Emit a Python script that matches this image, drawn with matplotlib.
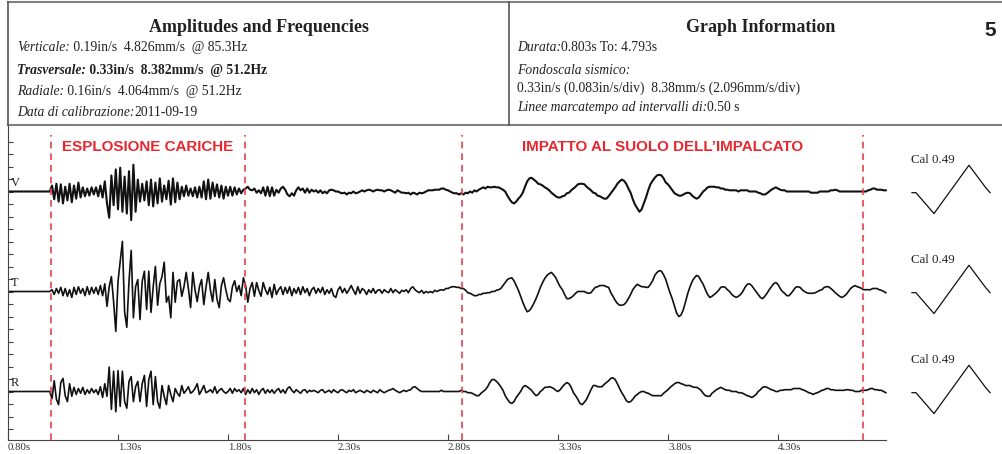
import numpy as np
import matplotlib
matplotlib.use('Agg')
import matplotlib.pyplot as plt

# record: one sample every 0.01 s starting at 0.80 s
t0, dt = 0.80, 0.01

# particle velocity in mm/s, each row = 0.2 s
vert = [
    0.0, 0.0, 0.0, 0.0, 0.0, 0.0, 0.0, 0.0, 0.0, 0.0, 0.0, 0.0, 0.0, 0.0, 0.0, 0.0, 0.0, 0.0, 0.0, 0.0,
    1.0, -1.3, 1.3, -1.7, 1.2, -2.0, 0.8, -1.5, 1.3, -1.8, 1.0, -1.2, 1.5, -1.0, 0.7, -0.8, 0.5, -0.7, 0.7, -0.5,
    0.7, -0.8, 1.0, -1.0, 1.7, -2.0, -4.4, 2.7, -2.3, 3.7, -3.0, 4.0, -3.4, 2.5, -3.7, 3.4, -4.8, 4.5, -3.4, 2.0,
    -1.7, 1.3, -1.5, 1.7, -2.3, 2.0, -2.5, 1.5, -2.0, 2.2, -1.7, 1.0, -1.3, 1.8, -2.2, 2.2, -1.8, 1.5, -1.3, 0.8,
    -0.8, 1.0, -0.7, 0.5, -0.8, 0.7, -1.0, 0.8, -1.0, 1.7, -1.3, 2.0, -1.2, 1.5, -0.8, 1.2, -1.0, 1.0, -1.2, 0.8,
    -0.7, 0.8, -0.7, 0.7, -0.5, 0.5, -0.3, 0.3, 0.5, 0.8, 0.3, 0.2, 0.5, -0.2, 0.2, -0.3, 0.7, -0.7, 0.8, -0.8,
    0.7, -0.7, 0.3, -0.2, 0.5, 0.8, 0.3, -0.5, -0.8, -0.3, -0.7, 0.2, 0.7, 0.2, 0.5, -0.2, 0.5, -0.2, 0.3, 0.0,
    0.2, -0.2, 0.2, -0.3, 0.0, -0.3, 0.2, 0.3, 0.2, 0.0, 0.0, -0.2, -0.3, -0.2, -0.5, -0.2, -0.3, 0.0, -0.3, -0.2,
    0.0, 0.2, 0.0, 0.2, 0.3, 0.2, 0.0, 0.2, 0.3, 0.2, 0.2, 0.0, 0.2, 0.3, 0.2, 0.0, -0.2, 0.2, 0.0, -0.2,
    -0.2, -0.3, -0.2, -0.5, -0.2, -0.3, -0.5, -0.2, -0.3, -0.2, 0.0, 0.2, 0.2, 0.2, 0.3, 0.3, 0.3, 0.5, 0.5, 0.3,
    0.2, 0.0, -0.2, -0.3, -0.3, -0.5, -0.3, -0.5, -0.2, -0.3, 0.0, -0.2, 0.2, 0.0, 0.3, 0.5, 0.7, 0.5, 0.8, 0.7,
    0.7, 0.8, 0.7, 0.7, 0.5, 0.3, 0.0, -0.7, -1.3, -1.8, -2.0, -1.7, -1.2, -0.8, -0.2, 0.8, 1.7, 2.2, 2.3, 2.0,
    1.7, 1.3, 1.2, 1.0, 0.7, 0.5, 0.2, -0.2, -0.5, -0.8, -1.0, -1.0, -0.8, -0.7, -0.3, -0.2, 0.2, 0.5, 0.8, 1.2,
    1.3, 1.3, 1.2, 0.8, 0.5, 0.2, -0.2, -0.3, -0.7, -0.8, -1.0, -1.2, -1.2, -0.8, -0.3, 0.2, 0.7, 1.3, 1.7, 2.0,
    1.8, 1.3, 0.5, -0.2, -1.3, -2.2, -2.8, -3.4, -3.0, -2.0, -1.0, 0.2, 1.2, 1.8, 2.3, 2.7, 2.8, 2.7, 2.2, 1.5,
    1.2, 0.7, 0.2, -0.3, -0.5, -0.7, -0.7, -0.5, -0.3, -0.2, -0.3, -0.7, -1.0, -1.2, -1.0, -0.5, 0.0, 0.3, 0.7, 0.8,
    0.8, 0.8, 0.7, 0.7, 0.5, 0.5, 0.3, 0.3, 0.2, 0.2, 0.2, 0.2, 0.0, 0.2, 0.2, 0.2, 0.2, 0.0, 0.0, 0.0,
    0.0, -0.2, -0.3, -0.5, -0.5, -0.3, 0.0, 0.3, 0.5, 0.7, 0.5, 0.3, 0.2, 0.2, 0.0, 0.0, 0.0, 0.0, 0.0, 0.0,
    0.0, 0.0, 0.0, 0.0, 0.0, -0.2, -0.2, -0.2, -0.2, 0.0, 0.0, 0.0, 0.0, 0.0, 0.2, 0.2, 0.3, 0.2, 0.0, 0.0,
    0.0, 0.0, 0.0, 0.0, 0.0, 0.0, 0.0, 0.0, 0.0, 0.0, 0.0, 0.2, 0.3, 0.5, 0.5, 0.3, 0.3, 0.3, 0.2, 0.2,
]
trasv = [
    0.0, 0.0, 0.0, 0.0, 0.0, 0.0, 0.0, 0.0, 0.0, 0.0, 0.0, 0.0, 0.0, 0.0, 0.0, 0.0, 0.0, 0.0, 0.0, 0.0,
    0.3, -0.5, 0.5, -0.3, 0.7, -0.7, 0.5, -0.8, 0.3, -1.0, 0.7, -0.5, 0.8, -0.3, 0.5, -0.7, 0.8, -0.5, 0.7, -0.3,
    0.7, -0.5, 1.0, -0.7, 1.3, -2.5, 0.8, 2.5, -1.7, -6.7, 1.7, 5.0, 8.4, -3.4, -6.0, 1.7, 6.9, -4.4, 0.8, 2.0,
    -4.7, 1.7, 3.4, -3.0, 3.4, -3.5, 0.8, 4.2, -2.3, 1.3, 2.5, 4.9, -1.8, -0.8, -4.4, 3.2, -1.8, 1.7, 2.0, -0.8,
    0.8, 3.2, 0.5, -2.7, 3.2, 0.3, -1.7, 0.8, 2.0, -2.2, 0.7, 3.2, 0.3, -1.7, 2.0, -1.3, -2.7, 1.0, 2.3, 0.3,
    -1.3, -1.7, 0.8, 1.8, 0.0, 1.0, -0.7, 2.3, 1.0, -1.8, 0.5, 1.5, -0.8, 1.5, 0.2, -0.8, 1.5, 0.3, -0.5, 0.7,
    -1.0, 1.2, -0.5, 0.3, 0.8, -0.5, 0.7, -0.3, 0.8, -0.7, 0.5, -0.3, 0.7, -0.5, 0.8, -0.2, 0.5, -0.7, 0.3, 0.7,
    -0.3, 0.5, -0.2, 0.7, -0.5, 0.3, -0.3, 0.5, -0.7, -1.0, 0.3, 0.8, -0.2, 0.5, -0.3, 0.3, 1.0, 0.2, -0.5, 0.8,
    -0.3, 0.5, 0.2, -0.5, 0.3, -0.2, 0.5, -0.3, 0.2, 0.3, -0.3, 0.3, 0.0, -0.2, 0.5, -0.2, 0.3, 0.0, -0.3, 0.2,
    0.0, 0.3, -0.2, 0.5, 0.8, 0.3, 0.0, -0.2, 0.2, -0.3, 0.0, -0.2, 0.0, -0.2, 0.2, 0.0, 0.2, 0.3, 0.2, 0.5,
    0.5, 0.7, 0.8, 0.8, 0.7, 0.7, 0.5, 0.5, 0.2, -0.2, -0.3, -0.5, -0.7, -0.7, -0.5, -0.5, -0.3, -0.3, -0.2, -0.2,
    0.0, 0.0, 0.2, 0.3, 0.5, 1.0, 1.5, 2.0, 2.2, 2.3, 1.8, 1.0, 0.2, -0.8, -1.8, -2.7, -3.4, -3.2, -2.7, -2.0,
    -1.2, -0.3, 0.7, 1.5, 2.2, 2.7, 3.0, 3.2, 2.8, 2.3, 1.5, 0.8, 0.3, -0.5, -1.2, -1.2, -1.0, -0.7, -0.3, 0.0,
    0.0, 0.0, 0.0, -0.2, -0.3, -0.2, 0.3, 0.7, 0.8, 1.0, 1.0, 1.0, 0.8, 0.7, -0.2, -0.8, -1.5, -2.0, -2.3, -2.3,
    -2.2, -1.8, -1.2, -0.5, 0.3, 0.8, 1.2, 1.0, 0.8, 0.8, 0.7, 0.7, 1.2, 1.8, 2.7, 3.2, 3.5, 3.4, 2.8, 2.0,
    0.8, -0.3, -1.3, -2.5, -3.7, -4.2, -3.9, -3.0, -1.7, -0.3, 0.8, 1.7, 2.3, 2.7, 2.5, 1.8, 1.2, 0.3, -0.5, -1.0,
    -0.8, -0.5, -0.2, 0.2, 0.7, 0.8, 0.7, 0.3, 0.0, -0.5, -0.8, -1.0, -0.8, -0.5, 0.0, 0.7, 1.2, 1.3, 1.0, 0.5,
    0.0, -0.5, -1.0, -1.2, -0.8, -0.3, 0.3, 0.8, 1.3, 1.5, 1.2, 0.5, 0.0, -0.3, -0.7, -0.7, -0.3, 0.2, 0.7, 0.8,
    0.7, 0.3, 0.0, -0.2, -0.3, -0.3, -0.3, -0.2, 0.0, 0.2, 0.3, 0.7, 0.8, 0.8, 0.5, 0.2, -0.2, -0.5, -0.8, -1.0,
    -0.8, -0.5, 0.0, 0.5, 0.8, 1.0, 0.8, 0.7, 0.5, 0.3, 0.3, 0.3, 0.3, 0.5, 0.5, 0.5, 0.3, 0.2, 0.0, -0.2,
]
rad = [
    0.0, 0.0, 0.0, 0.0, 0.0, 0.0, 0.0, 0.0, 0.0, 0.0, 0.0, 0.0, 0.0, 0.0, 0.0, 0.0, 0.0, 0.0, 0.0, 0.0,
    -1.2, 1.8, -1.3, -2.2, 1.5, 2.2, -0.7, -1.7, 1.3, -0.8, 0.7, -0.5, 0.5, -0.3, 0.7, -0.5, 0.3, -0.3, 0.5, -0.2,
    0.3, -0.5, 0.8, -1.0, 1.3, -0.8, 4.1, -3.0, 3.4, -3.4, 3.5, -2.5, 3.4, -1.7, -2.8, 1.7, 2.5, -1.7, 0.8, 1.7,
    -1.7, 1.3, 2.7, -2.5, 2.0, 3.4, -2.2, 2.5, -1.7, -2.8, 1.0, -0.8, -2.2, 1.0, -0.5, -1.7, 0.5, -0.3, -0.8, 1.0,
    -0.3, 0.2, 0.8, -0.3, 0.0, 0.5, 1.3, -0.5, 0.2, 1.0, -0.2, 0.0, 0.3, -0.2, 0.8, -0.3, 0.2, 0.5, 0.0, -0.3,
    0.0, 0.5, -0.3, 0.5, 0.0, 0.3, -0.2, 0.5, -0.5, 0.3, -0.3, 0.5, -0.2, 0.3, -0.5, 0.2, 0.5, -0.3, 0.3, -0.2,
    0.3, -0.3, 0.2, 0.5, -0.2, 0.3, -0.3, 0.5, 0.8, 0.2, -0.2, 0.3, 0.0, -0.3, 0.2, 0.3, -0.2, 0.2, 0.0, 0.2,
    0.0, -0.2, 0.2, 0.3, -0.2, 0.0, 0.2, -0.2, 0.3, 0.0, -0.2, 0.2, 0.3, 0.0, -0.2, 0.2, 0.0, 0.3, -0.2, 0.0,
    0.2, 0.0, -0.2, 0.2, 0.0, -0.2, 0.2, 0.0, -0.2, 0.3, 0.0, -0.2, 0.0, 0.2, 0.3, 0.5, 0.2, 0.0, -0.2, 0.0,
    0.2, 0.0, 0.2, 0.3, 0.7, 0.8, 0.5, 0.2, 0.0, 0.0, 0.0, 0.0, 0.0, 0.0, 0.0, 0.0, 0.0, 0.2, 0.0, 0.0,
    0.0, 0.0, 0.0, 0.0, 0.0, 0.0, 0.2, 0.0, 0.0, -0.2, -0.2, -0.3, -0.5, -0.7, -0.7, -0.3, 0.0, 0.3, 0.8, 1.5,
    2.0, 2.0, 1.7, 1.3, 0.8, 0.2, -0.7, -1.3, -1.8, -2.0, -1.7, -1.0, -0.5, 0.0, 0.7, 1.0, 0.8, 0.5, 0.2, -0.3,
    -0.7, -0.5, 0.0, 0.3, 0.7, 0.7, 0.8, 0.7, 0.5, 0.2, 0.0, 0.3, 0.8, 1.2, 1.5, 1.3, 0.7, -0.2, -0.7, -1.3,
    -2.0, -2.2, -1.8, -1.3, -0.5, 0.3, 1.0, 1.0, 0.8, 0.8, 0.8, 1.2, 1.5, 1.8, 2.2, 2.3, 2.0, 1.3, 0.5, -0.2,
    -0.8, -1.5, -1.8, -1.7, -1.3, -0.8, -0.5, -0.2, 0.0, 0.0, -0.2, -0.3, -0.5, -0.7, -0.7, -0.7, -0.7, -0.7, -0.3, 0.0,
    0.3, 0.7, 1.0, 1.3, 1.5, 1.5, 1.3, 1.2, 1.0, 1.0, 1.0, 0.8, 0.7, 0.7, 0.5, 0.2, -0.3, -0.7, -0.8, -0.8,
    -0.3, 0.0, 0.3, 0.5, 0.7, 0.5, 0.3, 0.2, 0.2, 0.0, 0.0, 0.0, -0.2, -0.2, -0.3, -0.5, -0.7, -0.8, -1.0, -0.8,
    -0.5, 0.0, 0.3, 0.7, 0.8, 0.7, 0.5, 0.3, 0.2, 0.0, 0.0, 0.2, 0.2, 0.3, 0.3, 0.3, 0.3, 0.5, 0.5, 0.5,
    0.5, 0.3, 0.2, 0.0, -0.2, -0.3, -0.5, -0.3, -0.2, 0.0, 0.2, 0.3, 0.5, 0.5, 0.3, 0.3, 0.2, 0.2, 0.2, 0.2,
    0.2, 0.3, 0.3, 0.2, 0.2, 0.0, 0.0, 0.0, 0.2, 0.2, 0.2, 0.3, 0.5, 0.5, 0.3, 0.3, 0.2, 0.2, 0.0, -0.2,
]

channels = ['V', 'T', 'R']
offsets = [20, 12, 4]          # baseline of each channel, in divisions
widths = [1.5, 1.2, 1.2]
mm_per_div = 2.096

# calibration pulse (s from pulse start, mm/s)
cal_t = [0.0, 0.018, 0.100, 0.259, 0.336, 0.355]
cal_v = [-0.2, -0.2, -3.7, 4.4, 0.6, -0.2]
cal_start = 4.909

marker_t = [0.995, 1.877, 2.864, 4.686]
events = ['ESPLOSIONE CARICHE', 'IMPATTO AL SUOLO DELL\u2019IMPALCATO']
tick_t = [0.80, 1.30, 1.80, 2.30, 2.80, 3.30, 3.80, 4.30]
tick_lab = ['0.80s', '1.30s', '1.80s', '2.30s', '2.80s', '3.30s', '3.80s', '4.30s']

W, H = 1003, 454
fig = plt.figure(figsize=(W / 100, H / 100), dpi=100)
serif = 'Liberation Serif'
dark = '#222222'

ax = fig.add_axes([8 / W, 14 / H, (W - 8) / W, 315 / H])
ax.set_xlim(0.80, 0.80 + 995 / 220)
ax.set_ylim(0.12, 25.32)

t = t0 + dt * np.arange(len(vert))
for name, off, lw, data in zip(channels, offsets, widths, [vert, trasv, rad]):
    ax.plot(t, off + np.array(data) / mm_per_div, color='#111111', lw=lw)
    ax.text(0.812, off + 0.7, name, family=serif, fontsize=9, color=dark,
            ha='left', va='center')
    ct = cal_start + np.array(cal_t)
    ax.plot(ct, off + np.array(cal_v) / mm_per_div, color='#111111', lw=0.9)
    ax.text(cal_start - 0.005, off + 2.55, 'Cal 0.49', family=serif,
            fontsize=9.3, color=dark, ha='left', va='center')

ax.vlines(marker_t, 0.12, 24.52, colors='#e8424c', lw=1.2,
          linestyles=(0, (4, 3)))
for k, ev in enumerate(events):
    xm = (marker_t[2 * k] + marker_t[2 * k + 1]) / 2
    ax.text(xm, 23.56, ev, family='Liberation Sans', weight='bold',
            fontsize=10.9, color='#e8262d', ha='center', va='center')

ax.spines['right'].set_visible(False)
ax.spines['top'].set_color('#808080')
ax.spines['top'].set_linewidth(1.5)
ax.spines['left'].set_color('#444444')
ax.spines['bottom'].set_color('#444444')
ax.spines['bottom'].set_bounds(0.80, 4.793)

ax.set_yticks(range(1, 25))
ax.set_yticklabels([])
ax.tick_params(axis='y', direction='in', length=3.5, width=0.8, color='#444444')
ax.set_xticks(tick_t)
ax.set_xticklabels(tick_lab, family=serif, fontsize=7.8, color='#333333')
for lbl in ax.get_xticklabels():
    lbl.set_ha('left')
ax.tick_params(axis='x', direction='in', length=4, width=0.8, color='#444444', pad=2)

# header box
fig.add_artist(plt.Line2D([8 / W, 1], [1 - 2 / H, 1 - 2 / H], color='#808080', lw=1.5))
fig.add_artist(plt.Line2D([8 / W, 8 / W], [1 - 2 / H, 1 - 125 / H], color='#555555', lw=1.2))
fig.add_artist(plt.Line2D([509 / W, 509 / W], [1 - 2 / H, 1 - 125 / H], color='#555555', lw=1.2))

fig.text(259 / W, 1 - 28 / H, 'Amplitudes and Frequencies', family=serif,
         weight='bold', fontsize=13, color=dark, ha='center', va='center')
fig.text(761 / W, 1 - 28 / H, 'Graph Information', family=serif,
         weight='bold', fontsize=13, color=dark, ha='center', va='center')
fig.text(990 / W, 1 - 31 / H, '5', family='Liberation Sans', weight='bold',
         fontsize=15, color=dark, ha='center', va='center')

renderer = fig.canvas.get_renderer()


def header_line(x, y, parts, size=9.8):
    for s, style, weight in parts:
        txt = fig.text(x / W, 1 - y / H, s, family=serif, style=style,
                       weight=weight, fontsize=size, color=dark,
                       ha='left', va='baseline')
        x = txt.get_window_extent(renderer).x1


header_line(17, 51, [('Verticale:', 'italic', 'normal'),
                     (' 0.19in/s  4.826mm/s  @ 85.3Hz', 'normal', 'normal')])
header_line(17, 74, [('Trasversale:', 'italic', 'bold'),
                     (' 0.33in/s  8.382mm/s  @ 51.2Hz', 'normal', 'bold')])
header_line(17, 95, [('Radiale:', 'italic', 'normal'),
                     (' 0.16in/s  4.064mm/s  @ 51.2Hz', 'normal', 'normal')])
header_line(17, 116, [('Data di calibrazione:', 'italic', 'normal'),
                      ('2011-09-19', 'normal', 'normal')])
header_line(517, 51, [('Durata:', 'italic', 'normal'),
                      ('0.803s To: 4.793s', 'normal', 'normal')])
header_line(517, 74, [('Fondoscala sismico:', 'italic', 'normal')])
header_line(517, 92, [('0.33in/s (0.083in/s/div)  8.38mm/s (2.096mm/s/div)', 'normal', 'normal')])
header_line(517, 111, [('Linee marcatempo ad intervalli di:', 'italic', 'normal'),
                       ('0.50 s', 'normal', 'normal')])

fig.savefig('out.png', dpi=100)
